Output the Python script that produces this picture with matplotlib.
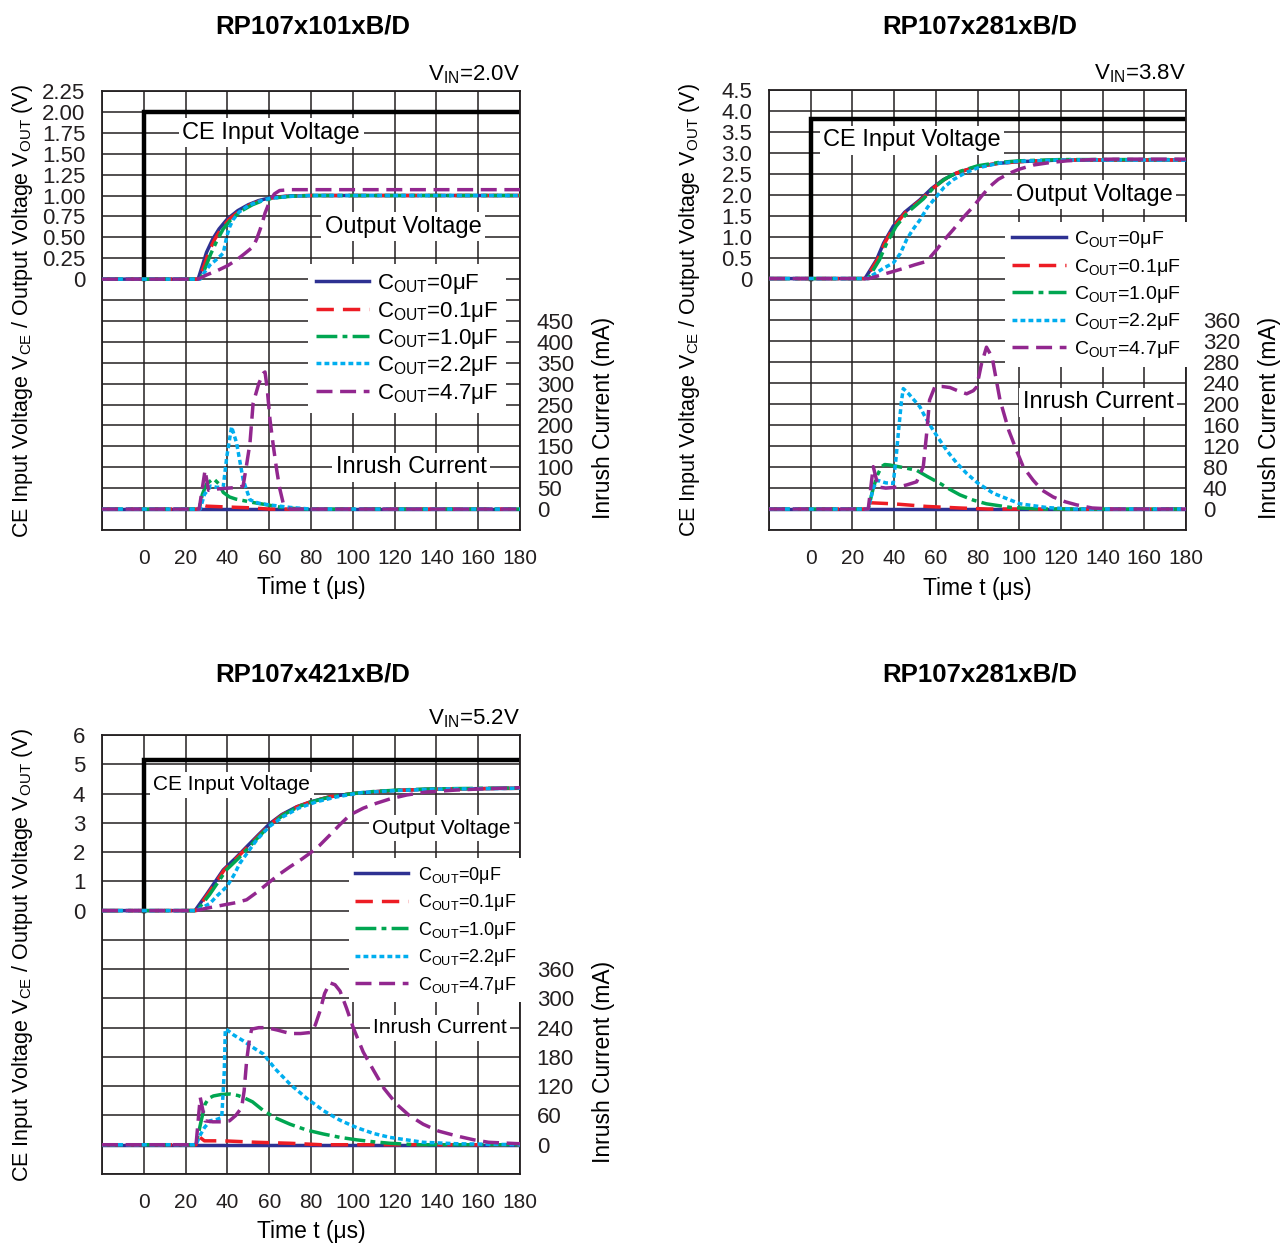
import numpy as np
import matplotlib
matplotlib.use("Agg")
import matplotlib.pyplot as plt
from matplotlib.ticker import FixedLocator, FuncFormatter

plt.rcParams['font.family'] = ['Liberation Sans', 'DejaVu Sans']
plt.rcParams['mathtext.fontset'] = 'custom'
plt.rcParams['mathtext.rm'] = 'Liberation Sans'
plt.rcParams['mathtext.it'] = 'Liberation Sans:italic'
plt.rcParams['mathtext.bf'] = 'Liberation Sans:bold'

# ---------------- data ----------------
TITLES = ["RP107x101xB/D", "RP107x281xB/D", "RP107x421xB/D", "RP107x281xB/D"]
VIN_LABELS = ["V$_\\mathregular{IN}$=2.0V", "V$_\\mathregular{IN}$=3.8V", "V$_\\mathregular{IN}$=5.2V"]
SERIES_LABELS = ["C$_\\mathregular{OUT}$=0μF", "C$_\\mathregular{OUT}$=0.1μF", "C$_\\mathregular{OUT}$=1.0μF",
                 "C$_\\mathregular{OUT}$=2.2μF", "C$_\\mathregular{OUT}$=4.7μF"]
X_TICKS = [-20, 0, 20, 40, 60, 80, 100, 120, 140, 160, 180]

CE_T = [0, 0, 180]
CE_V1 = [0, 2.0, 2.0]
CE_V2 = [0, 3.8, 3.8]
CE_V3 = [0, 5.15, 5.15]

# ---- panel 1 : VIN = 2.0V ----
p1_v0_t = [-20, 26, 28, 30, 33, 36, 40, 45, 50, 55, 60, 65, 70, 80, 100, 180]
p1_v0 = [0, 0, 0.16, 0.32, 0.48, 0.6, 0.72, 0.82, 0.89, 0.94, 0.97, 0.985, 0.995, 1.0, 1.0, 1.0]
p1_v1_t = [-20, 26.5, 29, 31, 34, 37, 41, 46, 51, 56, 61, 70, 80, 180]
p1_v1 = [0, 0, 0.17, 0.32, 0.48, 0.6, 0.72, 0.82, 0.89, 0.94, 0.97, 0.995, 1.0, 1.0]
p1_v2_t = [-20, 27, 29.5, 32, 35, 38, 42, 47, 52, 57, 62, 70, 80, 180]
p1_v2 = [0, 0, 0.14, 0.3, 0.46, 0.6, 0.72, 0.82, 0.89, 0.94, 0.97, 0.99, 1.0, 1.0]
p1_v3_t = [-20, 27, 29, 31.7, 35, 38, 39.7, 41, 42.7, 45.5, 50, 55, 60, 70, 80, 180]
p1_v3 = [0, 0, 0.08, 0.17, 0.24, 0.31, 0.51, 0.62, 0.71, 0.8, 0.88, 0.93, 0.965, 0.99, 1.0, 1.0]
p1_v4_t = [-20, 26, 30, 35, 40, 44.4, 48, 52.4, 54, 55.6, 57, 58, 60.4, 62.5, 65, 70, 80, 180]
p1_v4 = [0, 0, 0.05, 0.1, 0.16, 0.23, 0.3, 0.39, 0.48, 0.59, 0.7, 0.79, 0.94, 1.02, 1.06, 1.07, 1.07, 1.07]

p1_i0_t = [-20, 180]
p1_i0 = [0, 0]
p1_i1_t = [-20, 26.5, 28, 30, 40, 51, 60, 180]
p1_i1 = [0, 0, 10, 7, 5, 3, 0, 0]
p1_i2_t = [-20, 26.5, 28, 30, 33.3, 36, 38, 41, 44, 48, 52, 58, 65, 75, 180]
p1_i2 = [0, 0, 35, 60, 73, 60, 40, 29, 24, 20, 16, 11, 5, 0, 0]
p1_i3_t = [-20, 27, 29, 32, 35, 38, 39.7, 42, 44.4, 47.6, 50.8, 55, 60, 70, 80, 180]
p1_i3 = [0, 0, 35, 55, 52, 53, 125, 197, 158, 69, 22, 14, 10, 4, 0, 0]
p1_i4_t = [-20, 26.5, 29.3, 31, 35, 40, 45, 47.5, 49, 50.8, 52.3, 55, 57.2, 58, 59, 60.4, 62, 63.6, 65, 66.7, 70, 180]
p1_i4 = [0, 0, 93, 45, 48, 50, 52, 55, 100, 158, 253, 300, 325, 328, 290, 213, 150, 93, 50, 14, 0, 0]

# ---- panel 2 : VIN = 3.8V ----
p2_v0_t = [-20, 26, 31.6, 35, 39.6, 45, 52.4, 58, 63.6, 70, 79.6, 90, 100, 120, 180]
p2_v0 = [0, 0, 0.45, 0.85, 1.25, 1.58, 1.88, 2.15, 2.36, 2.52, 2.67, 2.75, 2.79, 2.83, 2.83]
p2_v1_t = [-20, 26.5, 32, 35.5, 40, 45.5, 53, 58.5, 64, 70, 79.6, 90, 100, 120, 180]
p2_v1 = [0, 0, 0.45, 0.85, 1.25, 1.58, 1.88, 2.15, 2.36, 2.52, 2.67, 2.75, 2.79, 2.83, 2.83]
p2_v2_t = [-20, 27.5, 33, 36.5, 41, 46.5, 54, 59, 64.5, 70.5, 80, 90, 100, 120, 180]
p2_v2 = [0, 0, 0.45, 0.85, 1.25, 1.58, 1.9, 2.17, 2.38, 2.54, 2.69, 2.77, 2.81, 2.84, 2.84]
p2_v3_t = [-20, 27, 31.6, 35, 39.6, 43, 46, 49, 52.4, 56, 60.4, 64, 68.4, 74, 80, 90, 100, 120, 180]
p2_v3 = [0, 0, 0.14, 0.25, 0.37, 0.6, 0.93, 1.17, 1.4, 1.7, 1.96, 2.18, 2.36, 2.52, 2.64, 2.75, 2.8, 2.83, 2.83]
p2_v4_t = [-20, 28, 34, 39.6, 45, 50, 55.6, 58, 60.4, 64, 68.4, 73, 78, 82, 86, 90, 95.6, 100, 106.8, 115, 123, 135, 145, 180]
p2_v4 = [0, 0, 0.09, 0.17, 0.25, 0.33, 0.41, 0.55, 0.69, 0.92, 1.17, 1.45, 1.72, 1.97, 2.2, 2.37, 2.52, 2.61, 2.71, 2.77, 2.81, 2.84, 2.85, 2.85]

p2_i0_t = [-20, 180]
p2_i0 = [0, 0]
p2_i1_t = [-20, 27, 28.5, 39.6, 55.6, 71.6, 85, 180]
p2_i1 = [0, 0, 12, 10, 5, 2, 0, 0]
p2_i2_t = [-20, 27.6, 30, 32, 34, 35.5, 38, 42, 46, 50.8, 56, 62, 67, 71.6, 78, 84.3, 96, 110, 180]
p2_i2 = [0, 0, 40, 65, 81, 85, 84, 81, 78, 74, 62, 49, 37, 27, 17, 10, 3, 0, 0]
p2_i3_t = [-20, 27.6, 30, 32, 36, 39.6, 41, 42, 43.5, 44.4, 47, 52.4, 55, 58.8, 65.2, 70, 74.8, 80, 87.6, 100.4, 113, 125, 180]
p2_i3 = [0, 0, 40, 55, 50, 49, 100, 144, 205, 230, 220, 195, 175, 150, 112, 88, 68, 50, 30, 10, 3, 0, 0]
p2_i4_t = [-20, 27.6, 30, 32.4, 36, 42, 46, 50.8, 54, 55.6, 57, 59.6, 63, 66.8, 71, 74.8, 78, 79.6, 81.9, 84.3, 87,
           90.8, 95, 98.7, 102, 106.7, 111, 116.3, 122, 127.5, 135, 145, 180]
p2_i4 = [0, 0, 81, 42, 40, 42, 46, 52, 81, 144, 208, 234, 234, 232, 225, 220, 226, 233, 277, 309, 290,
         208, 150, 112, 80, 55, 36, 23, 14, 8, 2, 0, 0]

# ---- panel 3 : VIN = 5.2V ----
p3_v0_t = [-20, 24.5, 30, 38, 44, 49.2, 55, 60.4, 66, 73.2, 80, 89, 100, 110, 122, 134, 150, 180]
p3_v0 = [0, 0, 0.55, 1.39, 1.8, 2.18, 2.6, 2.98, 3.28, 3.55, 3.72, 3.89, 4.0, 4.06, 4.11, 4.14, 4.16, 4.18]
p3_v1_t = [-20, 25, 30.5, 38.5, 44.5, 49.7, 55.5, 61, 66.5, 73.5, 80, 89, 100, 110, 122, 134, 150, 180]
p3_v1 = [0, 0, 0.55, 1.39, 1.8, 2.18, 2.6, 2.98, 3.28, 3.55, 3.72, 3.89, 4.0, 4.06, 4.11, 4.14, 4.16, 4.18]
p3_v2_t = [-20, 25.5, 31.5, 39.5, 45.5, 50.5, 56, 61.5, 67, 74, 80.5, 89.5, 100, 110, 122, 134, 150, 180]
p3_v2 = [0, 0, 0.55, 1.39, 1.8, 2.18, 2.6, 2.98, 3.28, 3.55, 3.72, 3.89, 4.0, 4.07, 4.12, 4.15, 4.17, 4.19]
p3_v3_t = [-20, 25, 28, 31.7, 35, 39.7, 43, 46, 50, 54, 60, 66.7, 74, 82.7, 92, 104, 120, 140, 180]
p3_v3 = [0, 0, 0.1, 0.25, 0.5, 0.82, 1.2, 1.62, 2.02, 2.41, 2.87, 3.21, 3.5, 3.72, 3.88, 4.03, 4.1, 4.15, 4.18]
p3_v4_t = [-20, 25, 30, 38, 44, 49.2, 54, 60.4, 65, 70, 75, 79.5, 84, 89, 94, 98.7, 105, 111.4, 118, 125.8, 135,
           149.7, 165, 180]
p3_v4 = [0, 0, 0.08, 0.19, 0.27, 0.37, 0.62, 0.99, 1.25, 1.5, 1.73, 1.96, 2.22, 2.58, 2.95, 3.27, 3.5, 3.67, 3.82,
         3.95, 4.05, 4.12, 4.17, 4.2]

p3_i0_t = [-20, 180]
p3_i0 = [0, 0]
p3_i1_t = [-20, 25, 26, 29, 38, 54, 70, 85, 180]
p3_i1 = [0, 0, 18, 8, 8, 5, 3, 0, 0]
p3_i2_t = [-20, 25, 26, 27.5, 29.3, 31, 33.3, 37, 41.2, 45, 47.6, 52, 57.2, 63, 70, 78, 85.9, 94, 101.9, 110,
           117.8, 130, 180]
p3_i2 = [0, 0, 20, 50, 83, 95, 100, 103, 104, 101, 97, 88, 70, 55, 42, 30, 22, 15, 10, 6, 3, 0, 0]
p3_i3_t = [-20, 25, 27, 29, 31.7, 35, 37.3, 38.5, 39, 40, 43, 47.6, 52, 57.2, 63, 70, 78, 85.9, 94, 101.9, 110,
           117.8, 133.7, 150, 180]
p3_i3 = [0, 0, 20, 35, 49, 52, 56, 150, 237, 235, 225, 213, 200, 186, 155, 124, 95, 70, 50, 35, 23, 15, 5, 2, 0]
p3_i4_t = [-20, 25, 27, 29.3, 33, 38, 41, 44, 46.8, 48, 49.2, 50.5, 51.6, 55, 58.8, 64, 70, 75, 79.5, 82, 84.3,
           86.5, 89, 91.5, 93.9, 97, 100.2, 105, 110, 115, 121, 127, 133.7, 141, 149.7, 158, 165, 180]
p3_i4 = [0, 0, 97, 49, 47, 47, 49, 60, 76, 110, 172, 215, 237, 240, 240, 235, 228, 228, 230, 245, 274,
         310, 332, 328, 315, 280, 240, 190, 152, 115, 83, 60, 42, 28, 18, 10, 5, 2]

# ---------------- styles ----------------
COLORS = ['#2e3192', '#ed1c24', '#00a651', '#00aeef', '#92278f']
DASHES = ['-', (0, (5, 2.6)), (0, (6, 1.5, 1.4, 1.5)), (0, (1.4, 0.9)), (0, (4.6, 2.2))]
LW = 2.5
GRID_C = '#231f20'

W, H = 1283, 1245
fig = plt.figure(figsize=(W / 100, H / 100), dpi=100)


def rect(l, t, r, b):
    return [l / W, 1 - b / H, (r - l) / W, (b - t) / H]


panels = [
    dict(rect=rect(102, 91, 520, 530), vlim=(-3.0, 2.25), vstep=0.25, vfmt=lambda v: '0' if v == 0 else f'{v:.2f}',
         ilim=(-50, 1000), iticks=list(range(0, 451, 50)), ce=CE_V1, vin=VIN_LABELS[0],
         vt=[p1_v0_t, p1_v1_t, p1_v2_t, p1_v3_t, p1_v4_t], v=[p1_v0, p1_v1, p1_v2, p1_v3, p1_v4],
         it=[p1_i0_t, p1_i1_t, p1_i2_t, p1_i3_t, p1_i4_t], i=[p1_i0, p1_i1, p1_i2, p1_i3, p1_i4],
         ce_txt=(61, 1.75, 'center'), out_txt=(124, 0.625), inr_txt=(128, -2.25), afs=17,
         leg=(0.493, 0.605), lfs=16, lls=0.15, lhl=2.4, lhp=0.36),
    dict(rect=rect(769, 90, 1186, 530), vlim=(-6.0, 4.5), vstep=0.5, vfmt=lambda v: '0' if v == 0 else f'{v:.1f}',
         ilim=(-40, 800), iticks=list(range(0, 361, 40)), ce=CE_V2, vin=VIN_LABELS[1],
         vt=[p2_v0_t, p2_v1_t, p2_v2_t, p2_v3_t, p2_v4_t], v=[p2_v0, p2_v1, p2_v2, p2_v3, p2_v4],
         it=[p2_i0_t, p2_i1_t, p2_i2_t, p2_i3_t, p2_i4_t], i=[p2_i0, p2_i1, p2_i2, p2_i3, p2_i4],
         ce_txt=(48.6, 3.3, 'center'), out_txt=(136, 2.0), inr_txt=(138, -2.95), afs=17,
         leg=(0.566, 0.699), lfs=14, lls=0.33, lhl=2.8, lhp=0.41),
    dict(rect=rect(102, 735, 520, 1174), vlim=(-9, 6), vstep=1, vfmt=lambda v: f'{int(round(v))}',
         ilim=(-60, 840), iticks=list(range(0, 361, 60)), ce=CE_V3, vin=VIN_LABELS[2],
         vt=[p3_v0_t, p3_v1_t, p3_v2_t, p3_v3_t, p3_v4_t], v=[p3_v0, p3_v1, p3_v2, p3_v3, p3_v4],
         it=[p3_i0_t, p3_i1_t, p3_i2_t, p3_i3_t, p3_i4_t], i=[p3_i0, p3_i1, p3_i2, p3_i3, p3_i4],
         ce_txt=(4.6, 4.3, 'left'), out_txt=(142.5, 2.82), inr_txt=(141.7, -4.0), afs=15,
         leg=(0.591, 0.719), lfs=13, lls=0.36, lhl=2.9, lhp=0.55),
]

title_pos = [(313, 27), (980, 27), (313, 675), (980, 675)]
for (x, y), t in zip(title_pos, TITLES):
    fig.text(x / W, 1 - y / H, t, ha='center', va='center', fontsize=18.5, fontweight='bold')

FS = 16
txt_box = dict(facecolor='white', edgecolor='none', pad=2.5)

for p in panels:
    ax = fig.add_axes(p['rect'])
    ax.set_xlim(-20, 180)
    ax.set_ylim(*p['vlim'])
    lo, hi = p['vlim']
    n = int(round((hi - lo) / p['vstep']))
    ygrid = [lo + k * p['vstep'] for k in range(n + 1)]
    ax.yaxis.set_major_locator(FixedLocator(ygrid))
    ax.yaxis.set_major_formatter(FuncFormatter(lambda v, pos, f=p['vfmt']: f(v) if v >= -1e-9 else ''))
    ax.xaxis.set_major_locator(FixedLocator(X_TICKS))
    ax.xaxis.set_major_formatter(FuncFormatter(lambda v, pos: '' if v < 0 else f'{int(v)}'))
    ax.grid(True, color=GRID_C, lw=1.1, zorder=0)
    ax.set_axisbelow(True)
    ax.tick_params(length=0, labelsize=FS, colors='#231f20')
    ax.tick_params(axis='x', pad=14, labelsize=15)
    ax.tick_params(axis='y', pad=12)
    for s in ax.spines.values():
        s.set_color(GRID_C)
        s.set_linewidth(1.3)

    ax2 = ax.twinx()
    ax2.set_ylim(*p['ilim'])
    ax2.yaxis.set_major_locator(FixedLocator(p['iticks']))
    ax2.tick_params(length=0, labelsize=FS, pad=12, colors='#231f20')
    for s in ax2.spines.values():
        s.set_visible(False)

    ax.plot(CE_T, p['ce'], color='black', lw=3.2, zorder=2, solid_joinstyle='miter')
    handles = []
    for k in range(5):
        h, = ax.plot(p['vt'][k], p['v'][k], color=COLORS[k], ls=DASHES[k], lw=LW, zorder=3 + k * 0.1)
        handles.append(h)
        ax2.plot(p['it'][k], p['i'][k], color=COLORS[k], ls=DASHES[k], lw=LW, zorder=3 + k * 0.1)

    cx, cy, cha = p['ce_txt']
    ax2.text(cx, cy, 'CE Input Voltage', transform=ax.transData, ha=cha, va='center', fontsize=p['afs'],
             bbox=txt_box, zorder=6)
    ax2.text(p['out_txt'][0], p['out_txt'][1], 'Output Voltage', transform=ax.transData, ha='center',
             va='center', fontsize=p['afs'], bbox=txt_box, zorder=6)
    ax2.text(p['inr_txt'][0], p['inr_txt'][1], 'Inrush Current', transform=ax.transData, ha='center',
             va='center', fontsize=p['afs'], bbox=txt_box, zorder=6)

    leg = ax2.legend(handles, SERIES_LABELS, loc='upper left', bbox_to_anchor=p['leg'], fontsize=p['lfs'],
                     frameon=True, fancybox=False, framealpha=1, edgecolor='none', facecolor='white',
                     handlelength=p['lhl'], handletextpad=p['lhp'], labelspacing=p['lls'], borderpad=0.35,
                     borderaxespad=0)
    leg.set_zorder(7)

    ax2.text(1.0, 1.012, p['vin'], transform=ax.transAxes, ha='right', va='bottom', fontsize=16)
    ax2.text(-0.19, 0.5, 'CE Input Voltage V$_\\mathregular{CE}$ / Output Voltage V$_\\mathregular{OUT}$ (V)',
             transform=ax.transAxes, rotation=90, ha='center', va='center', fontsize=15.5)
    ax2.text(1.2, 0.255, 'Inrush Current (mA)', transform=ax.transAxes, rotation=90, ha='center',
             va='center', fontsize=16.5)
    ax2.text(0.5, -0.132, 'Time t (μs)', transform=ax.transAxes, ha='center', va='center', fontsize=16.5)

fig.savefig('out.png', dpi=100)
